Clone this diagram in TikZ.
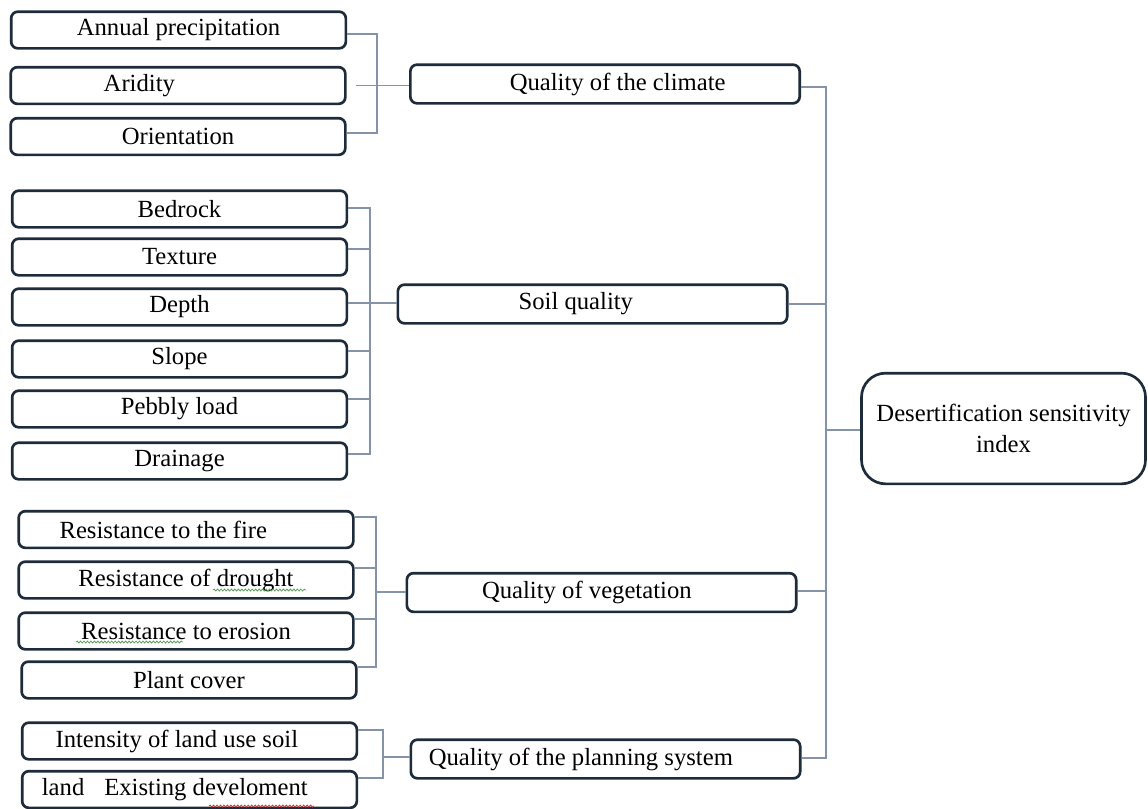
\documentclass[tikz,border=0pt]{standalone}
\usepackage{fontspec}
\setmainfont{Liberation Serif}
\usetikzlibrary{decorations.pathmorphing}
\definecolor{boxline}{HTML}{1E2B3A}
\definecolor{linkline}{HTML}{8593A8}
\definecolor{spellgreen}{HTML}{5A9E5A}
\definecolor{spellred}{HTML}{C83A3A}
\tikzset{
  leaf/.style={draw=boxline, line width=2pt, rounded corners=5pt, fill=white,
    minimum width=251pt, minimum height=27.5pt, inner sep=0pt},
  factor/.style={leaf, minimum width=292pt, minimum height=29pt},
  link/.style={draw=linkline, line width=0.9pt},
  squiggle/.style={decorate, decoration={snake, amplitude=0.7pt, segment length=2.6pt}, line width=0.6pt}
}
\begin{document}
\begin{tikzpicture}[x=0.75pt,y=-0.75pt,font=\fontsize{18.5}{23}\selectfont]
    \useasboundingbox (0,0) rectangle (1148,808);
    \clip (0,0) rectangle (1148,808);
    % climate
    \node[leaf] (ap) at (178.5,30) {Annual precipitation};
    \node[leaf] (ar) at (178,85.5) {Aridity\hspace*{58pt}};
    \node[leaf] (or) at (178,136.5) {Orientation};
    \node[factor] (cq) at (605,84) {\hspace*{19pt}Quality of the climate};
    % soil
    \node[leaf] (br) at (179.5,209) {Bedrock};
    \node[leaf] (tx) at (179.5,257) {Texture};
    \node[leaf] (dp) at (179.5,307) {Depth};
    \node[leaf] (sl) at (179.5,359) {Slope};
    \node[leaf] (pl) at (179.5,409) {Pebbly load};
    \node[leaf] (dr) at (179.5,461) {Drainage};
    \node[factor] (sq) at (592.5,304) {Soil quality\hspace*{25pt}};
    % vegetation
    \node[leaf] (rf) at (186,529.5) {Resistance to the fire\hspace*{34pt}};
    \node[leaf] (rd) at (186,580) {Resistance of drought};
    \node[leaf] (re) at (186,631) {Resistance to erosion};
    \node[leaf] (pc) at (189,680) {Plant cover};
    \node[factor] (qv) at (601.5,592.5) {Quality of vegetation\hspace*{22pt}};
    % planning
    \node[leaf] (il) at (189.5,741) {Intensity of land use soil\hspace*{19pt}};
    \node[leaf] (le) at (189.5,789.5) {land\hspace{15pt}Existing develoment\hspace*{22pt}};
    \node[factor] (qp) at (605.5,759) {Quality of the planning system\hspace*{37pt}};
    % index
    \node[draw=boxline, line width=2pt, rounded corners=18pt, align=center, inner sep=0pt,
      minimum width=213pt, minimum height=83pt] (dsi) at (1003.5,428.5) {Desertification sensitivity\\ index};
    % brackets
    \coordinate (cbar) at (377,88);
    \draw[link] (ap.east |- 0,34) -| (cbar);
    \draw[link] (or.east |- 0,133) -| (cbar);
    \draw[link] ([xshift=7pt]ar.east) -- (cq.west |- ar.east);
    \coordinate (sbar) at (370,303);
    \draw[link] (br.east |- 0,208) -| (sbar);
    \draw[link] (tx.east |- 0,249) -| (sbar);
    \draw[link] (sl.east |- 0,351) -| (sbar);
    \draw[link] (pl.east |- 0,399) -| (sbar);
    \draw[link] (dr.east |- 0,454) -| (sbar);
    \draw[link] (dp.east |- sbar) -- (sq.west |- sbar);
    \coordinate (vbar) at (376,592);
    \draw[link] (rf.east |- 0,517) -| (vbar);
    \draw[link] (rd.east |- 0,568) -| (vbar);
    \draw[link] (re.east |- 0,619) -| (vbar);
    \draw[link] (pc.east |- 0,667) -| (vbar);
    \draw[link] (vbar) -- (qv.west |- vbar);
    \coordinate (pbar) at (383,757);
    \draw[link] (il.east |- 0,730) -| (pbar);
    \draw[link] (le.east |- 0,778) -| (pbar);
    \draw[link] (pbar) -- (qp.west |- pbar);
    % trunk
    \coordinate (trunk) at (826,430);
    \draw[link] (cq.east |- 0,87) -| (trunk);
    \draw[link] (qp.east |- 0,758) -| (trunk);
    \draw[link] (sq.east |- 0,304) -- (trunk |- 0,304);
    \draw[link] (qv.east |- 0,591) -- (trunk |- 0,591);
    \draw[link] (trunk) -- (dsi.west |- trunk);
    % spelling marks
    \draw[spellgreen, squiggle] (213,590) -- (306,590);
    \draw[spellgreen, squiggle] (76,642) -- (183,642);
    \draw[spellred, squiggle] (209,806) -- (314,806);
\end{tikzpicture}
\end{document}
